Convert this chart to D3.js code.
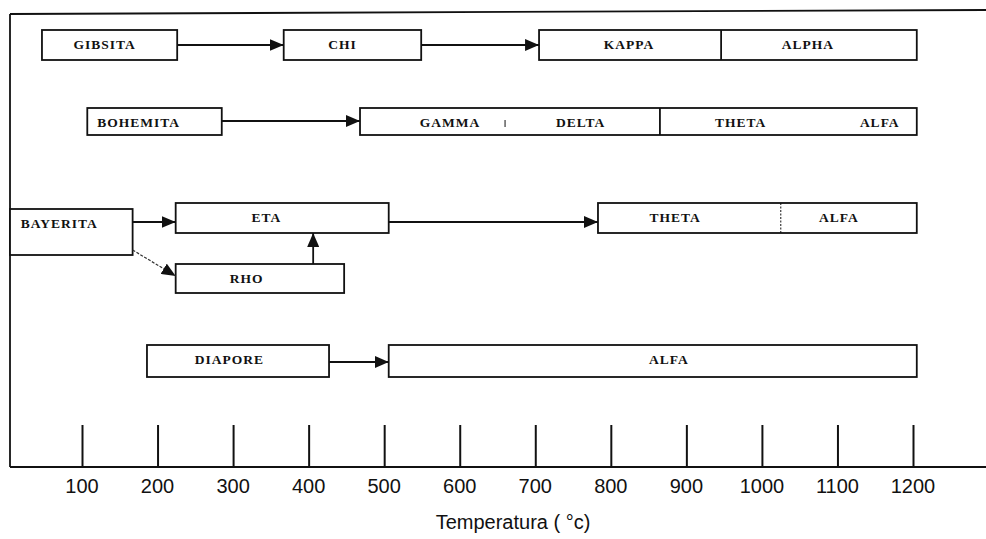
<!DOCTYPE html>
<html>
<head>
<meta charset="utf-8">
<script src="https://cdn.jsdelivr.net/npm/d3@7"></script>
<style>
  html, body { margin: 0; padding: 0; background: #fff; }
  svg { display: block; }
</style>
</head>
<body>
<svg id="chart" width="986" height="539"></svg>
<script>
// ---------- data (temperatures in °C) ----------
const tickValues = [100, 200, 300, 400, 500, 600, 700, 800, 900, 1000, 1100, 1200];
const axisTitle = "Temperatura ( °c)";

// boxes: start/end temperature, row index
const boxes = [
  { id: "gibsita",     row: 0, from: 47,  to: 226 },
  { id: "chi",         row: 0, from: 367, to: 549 },
  { id: "kappa-alpha", row: 0, from: 705, to: 1205 },
  { id: "bohemita",    row: 1, from: 107, to: 285 },
  { id: "gamma-alfa",  row: 1, from: 468, to: 1205 },
  { id: "bayerita",    row: 2, from: 4.7, to: 167 },
  { id: "eta",         row: 3, from: 224, to: 506 },
  { id: "theta-alfa",  row: 3, from: 783, to: 1205 },
  { id: "rho",         row: 4, from: 224, to: 447 },
  { id: "diapore",     row: 5, from: 186, to: 427 },
  { id: "alfa",        row: 5, from: 506, to: 1205 }
];

// phase labels: text, centre temperature, row
const labels = [
  { text: "GIBSITA",  at: 130,  row: 0 },
  { text: "CHI",      at: 445,  row: 0 },
  { text: "KAPPA",    at: 824,  row: 0 },
  { text: "ALPHA",    at: 1061, row: 0 },
  { text: "BOHEMITA", at: 175,  row: 1 },
  { text: "GAMMA",    at: 587,  row: 1 },
  { text: "DELTA",    at: 760,  row: 1 },
  { text: "THETA",    at: 972,  row: 1 },
  { text: "ALFA",     at: 1156, row: 1 },
  { text: "BAYERITA", at: 70,   row: 2 },
  { text: "ETA",      at: 344,  row: 3 },
  { text: "THETA",    at: 885,  row: 3 },
  { text: "ALFA",     at: 1102, row: 3 },
  { text: "RHO",      at: 318,  row: 4 },
  { text: "DIAPORE",  at: 295,  row: 5 },
  { text: "ALFA",     at: 877,  row: 5 }
];

// dividers inside boxes
const dividers = [
  { at: 946,  row: 0, kind: "full" },
  { at: 660,  row: 1, kind: "mark" },
  { at: 865,  row: 1, kind: "full" },
  { at: 1025, row: 3, kind: "dotted" }
];

// horizontal transitions: from / to temperature on a row
const arrows = [
  { from: 226, to: 367, row: 0 },
  { from: 549, to: 705, row: 0 },
  { from: 285, to: 468, row: 1 },
  { from: 167, to: 224, row: 3 },
  { from: 506, to: 783, row: 3 },
  { from: 427, to: 506, row: 5 }
];
// vertical transition RHO -> ETA
const upArrows = [ { at: 406, fromRow: 4, toRow: 3 } ];
// dashed diagonal BAYERITA -> RHO
const diagArrows = [ { from: 167, fromRow: 2, to: 224, toRow: 4 } ];

// ---------- layout ----------
const svg = d3.select("#chart");
const x = d3.scaleLinear().domain([100, 1200]).range([82, 913]);

// row geometry (top, bottom, arrow line y)
const rowTop    = [30, 108, 209, 203, 264, 345];
const rowBottom = [60, 135, 255, 233, 293, 377];
const rowLine   = [45, 121, 223, 222, 278, 362];

const frameLeft = 10, frameTop = 12, baseY = 467, tickTop = 425, rightEdge = 986;

const defs = svg.append("defs");
defs.append("marker")
  .attr("id", "head")
  .attr("viewBox", "0 0 14 12")
  .attr("refX", 14).attr("refY", 6)
  .attr("markerWidth", 14).attr("markerHeight", 12)
  .attr("markerUnits", "userSpaceOnUse")
  .attr("orient", "auto")
  .append("path").attr("d", "M0,0 L14,6 L0,12 Z").attr("fill", "#111");

// frame
svg.append("line")
  .attr("x1", frameLeft).attr("y1", frameTop + 2).attr("x2", rightEdge).attr("y2", frameTop - 2)
  .attr("stroke", "#111").attr("stroke-width", 1.8);
svg.append("line")
  .attr("x1", frameLeft).attr("y1", frameTop + 2).attr("x2", frameLeft).attr("y2", baseY)
  .attr("stroke", "#111").attr("stroke-width", 1.8);

// axis (ticks drawn upward)
const axis = d3.axisTop(x).tickValues(tickValues).tickSize(baseY - tickTop).tickFormat("");
const gAxis = svg.append("g").attr("transform", `translate(0,${baseY})`).call(axis);
gAxis.select(".domain").remove();
gAxis.selectAll(".tick line").attr("stroke", "#111").attr("stroke-width", 2);
svg.append("line")
  .attr("x1", frameLeft).attr("y1", baseY).attr("x2", rightEdge).attr("y2", baseY)
  .attr("stroke", "#111").attr("stroke-width", 2);

svg.append("g").selectAll("text").data(tickValues).join("text")
  .attr("x", d => x(d)).attr("y", 493)
  .attr("text-anchor", "middle")
  .attr("font-family", "'Liberation Sans', Arial, sans-serif")
  .attr("font-size", 20)
  .attr("fill", "#111")
  .text(d => d);

svg.append("text")
  .attr("x", 513).attr("y", 529)
  .attr("text-anchor", "middle")
  .attr("font-family", "'Liberation Sans', Arial, sans-serif")
  .attr("font-size", 20)
  .attr("fill", "#111")
  .text(axisTitle);

// boxes
svg.append("g").selectAll("rect").data(boxes).join("rect")
  .attr("x", d => x(d.from)).attr("y", d => rowTop[d.row])
  .attr("width", d => x(d.to) - x(d.from))
  .attr("height", d => rowBottom[d.row] - rowTop[d.row])
  .attr("fill", "#fff").attr("stroke", "#111").attr("stroke-width", 1.8);

// dividers
svg.append("g").selectAll("line").data(dividers).join("line")
  .attr("x1", d => x(d.at)).attr("x2", d => x(d.at))
  .attr("y1", d => d.kind === "mark" ? rowTop[d.row] + 12 : rowTop[d.row])
  .attr("y2", d => d.kind === "mark" ? rowTop[d.row] + 19 : rowBottom[d.row])
  .attr("stroke", "#111")
  .attr("stroke-width", d => d.kind === "full" ? 1.8 : 1)
  .attr("stroke-dasharray", d => d.kind === "dotted" ? "2,1.5" : null);

// horizontal arrows
svg.append("g").selectAll("line").data(arrows).join("line")
  .attr("x1", d => x(d.from)).attr("x2", d => x(d.to))
  .attr("y1", d => rowLine[d.row]).attr("y2", d => rowLine[d.row])
  .attr("stroke", "#111").attr("stroke-width", 1.8)
  .attr("marker-end", "url(#head)");

// vertical arrow
svg.append("g").selectAll("line").data(upArrows).join("line")
  .attr("x1", d => x(d.at)).attr("x2", d => x(d.at))
  .attr("y1", d => rowTop[d.fromRow]).attr("y2", d => rowBottom[d.toRow])
  .attr("stroke", "#111").attr("stroke-width", 1.8)
  .attr("marker-end", "url(#head)");

// dashed diagonal arrow
svg.append("g").selectAll("line").data(diagArrows).join("line")
  .attr("x1", d => x(d.from)).attr("y1", d => rowBottom[d.fromRow] - 5)
  .attr("x2", d => x(d.to)).attr("y2", d => rowLine[d.toRow] - 2)
  .attr("stroke", "#333").attr("stroke-width", 1.2)
  .attr("stroke-dasharray", "3,1.5")
  .attr("marker-end", "url(#head)");

// labels
svg.append("g").selectAll("text").data(labels).join("text")
  .attr("x", d => x(d.at)).attr("y", d => rowTop[d.row] + 19)
  .attr("text-anchor", "middle")
  .attr("font-family", "'Liberation Serif', 'Times New Roman', serif")
  .attr("font-weight", "bold")
  .attr("font-size", 13.5)
  .attr("letter-spacing", 1)
  .attr("fill", "#111")
  .text(d => d.text);
</script>
</body>
</html>
